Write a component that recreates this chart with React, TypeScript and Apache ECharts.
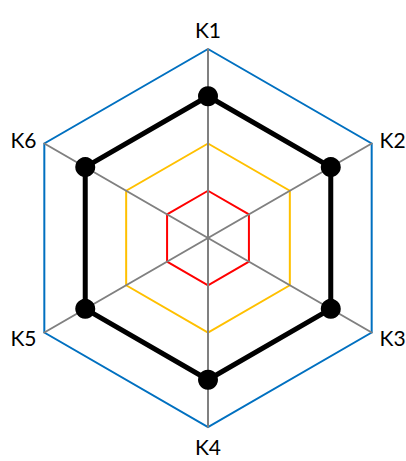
import React, { useEffect, useRef } from "react";
import * as echarts from "echarts";

// Indicators listed counter-clockwise from the top (ECharts radar order)
const indicatorNames = ["K1", "K6", "K5", "K4", "K3", "K2"];
const indicatorMax = 4;
const seriesValues = [3, 3, 3, 3, 3, 3];
// ring colours: centre, 1, 2, 3, 4
const ringColors = ["transparent", "#FF0000", "#FFC000", "transparent", "#0070C0"];

export default function App() {
  const ref = useRef<HTMLDivElement>(null);
  useEffect(() => {
    document.body.style.margin = "0";
    const chart = echarts.init(ref.current!, undefined, { renderer: "svg" });
    chart.setOption({
      animation: false,
      backgroundColor: "#ffffff",
      radar: {
        center: [208, 238],
        radius: 189,
        startAngle: 90,
        splitNumber: 4,
        shape: "polygon",
        indicator: indicatorNames.map((n) => ({ name: n, max: indicatorMax, min: 0 })),
        nameGap: 9,
        axisName: {
          color: "#000000",
          fontSize: 21,
          fontFamily: "Lato, 'Open Sans', sans-serif",
        },
        axisLine: { show: true, lineStyle: { color: "#808080", width: 2 } },
        axisTick: { show: false },
        axisLabel: { show: false },
        splitArea: { show: false },
        splitLine: { show: true, lineStyle: { color: ringColors, width: 2 } },
      },
      series: [
        {
          type: "radar",
          symbol: "circle",
          symbolSize: 20,
          lineStyle: { color: "#000000", width: 5 },
          itemStyle: { color: "#000000" },
          data: [{ value: seriesValues, name: "S" }],
        },
      ],
    });
    return () => chart.dispose();
  }, []);
  return <div ref={ref} style={{ width: 406, height: 461 }} />;
}
